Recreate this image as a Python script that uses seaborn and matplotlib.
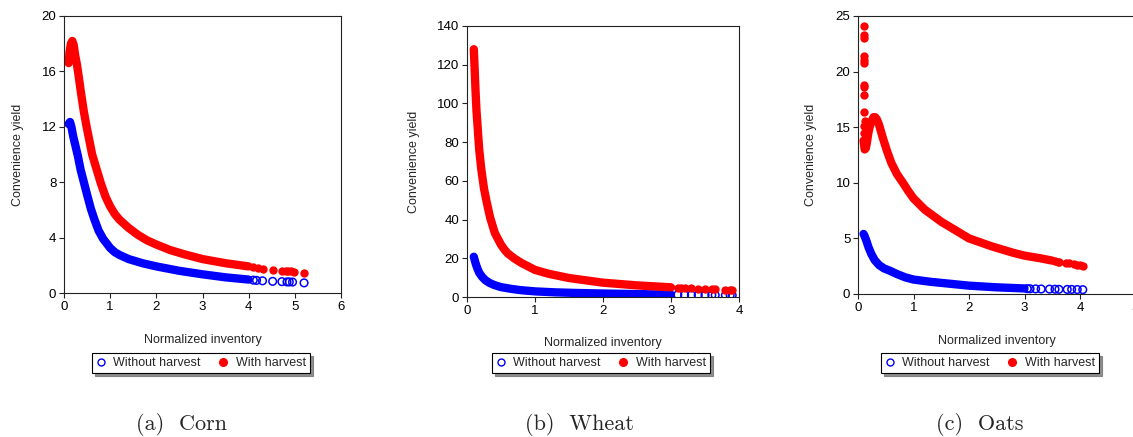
import matplotlib
matplotlib.use('Agg')
import matplotlib.pyplot as plt
from matplotlib.lines import Line2D
import seaborn as sns

# values
# "band" = densely packed points (drawn as a thick stroke), "pts" = single markers

# Corn
corn_wo_band_x = [0.10, 0.13, 0.16, 0.20, 0.25, 0.30, 0.36, 0.43, 0.50, 0.58, 0.66, 0.75, 0.85, 1.0,
                  1.1, 1.2, 1.4, 1.7, 2.0, 2.5, 3.0, 3.5, 4.0]
corn_wo_band_y = [12.2, 12.35, 12.0, 11.3, 10.6, 9.9, 8.9, 8.0, 7.1, 6.1, 5.3, 4.5, 3.9, 3.25,
                  2.95, 2.75, 2.45, 2.15, 1.92, 1.6, 1.35, 1.13, 0.97]
corn_wo_pts_x = [4.1, 4.17, 4.3, 4.52, 4.72, 4.83, 4.88, 4.95, 5.2]
corn_wo_pts_y = [0.93, 0.91, 0.88, 0.84, 0.82, 0.80, 0.80, 0.79, 0.73]
corn_w_band_x = [0.10, 0.12, 0.15, 0.18, 0.21, 0.24, 0.28, 0.32, 0.37, 0.43, 0.49, 0.55, 0.61, 0.70,
                 0.80, 0.90, 1.0, 1.1, 1.2, 1.3, 1.4, 1.6, 1.8, 2.0, 2.3, 2.6, 3.0, 3.5, 4.0]
corn_w_band_y = [16.6, 17.4, 18.0, 18.2, 17.9, 17.2, 16.5, 15.6, 14.4, 13.1, 12.0, 11.0, 10.0, 9.0,
                 7.9, 6.95, 6.25, 5.7, 5.3, 5.0, 4.7, 4.2, 3.8, 3.5, 3.1, 2.8, 2.45, 2.15, 1.92]
corn_w_pts_x = [4.1, 4.2, 4.3, 4.52, 4.72, 4.80, 4.86, 4.92, 4.98, 5.2]
corn_w_pts_y = [1.85, 1.78, 1.74, 1.66, 1.61, 1.58, 1.57, 1.56, 1.54, 1.42]

# Wheat
wheat_wo_band_x = [0.10, 0.11, 0.13, 0.15, 0.18, 0.22, 0.27, 0.33, 0.40, 0.50, 0.65, 0.8, 1.0,
                   1.3, 1.6, 2.0, 2.5, 3.0]
wheat_wo_band_y = [20.8, 19.5, 17.0, 15.0, 12.5, 10.5, 8.7, 7.3, 6.2, 5.1, 4.2, 3.5, 2.9,
                   2.4, 2.1, 1.8, 1.5, 1.25]
wheat_wo_pts_x = [3.1, 3.2, 3.3, 3.4, 3.5, 3.6, 3.65, 3.8, 3.87, 3.9]
wheat_wo_pts_y = [1.2, 1.15, 1.1, 1.07, 1.03, 1.0, 1.0, 0.95, 0.93, 0.92]
wheat_w_band_x = [0.10, 0.11, 0.12, 0.13, 0.14, 0.16, 0.18, 0.21, 0.25, 0.29, 0.34, 0.41, 0.50,
                  0.55, 0.60, 0.70, 0.80, 1.0, 1.2, 1.5, 2.0, 2.5, 3.0]
wheat_w_band_y = [128, 120, 111, 103, 96, 86, 76, 66, 56, 49, 41, 33, 27,
                  24.5, 22.5, 19.8, 17.6, 14, 12, 9.8, 7.4, 6.0, 5.0]
wheat_w_pts_x = [3.1, 3.15, 3.2, 3.3, 3.4, 3.5, 3.6, 3.65, 3.8, 3.87, 3.9]
wheat_w_pts_y = [4.8, 4.7, 4.6, 4.4, 4.3, 4.1, 3.9, 3.9, 3.7, 3.6, 3.6]

# Oats
oats_wo_band_x = [0.10, 0.12, 0.15, 0.19, 0.24, 0.30, 0.38, 0.47, 0.57, 0.7, 0.85, 1.0,
                  1.3, 1.6, 2.0, 2.5, 3.0]
oats_wo_band_y = [5.4, 5.2, 4.8, 4.2, 3.6, 3.05, 2.6, 2.3, 2.1, 1.8, 1.5, 1.3,
                  1.1, 0.95, 0.75, 0.6, 0.5]
oats_wo_pts_x = [3.05, 3.1, 3.2, 3.3, 3.45, 3.55, 3.62, 3.77, 3.85, 3.95, 4.05]
oats_wo_pts_y = [0.48, 0.47, 0.46, 0.45, 0.44, 0.43, 0.42, 0.41, 0.41, 0.40, 0.39]
oats_w_band_x = [0.10, 0.11, 0.12, 0.14, 0.16, 0.18, 0.20, 0.22, 0.25, 0.28, 0.31, 0.34, 0.38,
                 0.45, 0.52, 0.60, 0.70, 0.81, 0.9, 1.0, 1.2, 1.5, 1.8, 2.0, 2.4, 2.8, 3.0,
                 3.3, 3.5]
oats_w_band_y = [13.8, 13.4, 13.0, 13.1, 13.6, 14.3, 14.8, 15.2, 15.6, 15.9, 15.9, 15.7, 15.2,
                 14.0, 12.9, 11.8, 10.8, 10.0, 9.3, 8.6, 7.6, 6.5, 5.6, 5.0, 4.3, 3.7, 3.45,
                 3.2, 3.0]
oats_w_pts_x = [0.10, 0.10, 0.10, 0.10, 0.10, 0.10, 0.11, 0.11, 0.10, 0.11, 0.12, 0.11, 0.10,
                3.55, 3.6, 3.63, 3.75, 3.8, 3.9, 3.95, 4.0, 4.05]
oats_w_pts_y = [24.1, 23.3, 23.0, 21.4, 21.0, 20.8, 18.8, 18.6, 17.9, 16.4, 15.6, 15.1, 14.5,
                2.95, 2.9, 2.85, 2.75, 2.75, 2.7, 2.65, 2.6, 2.55]

captions = ['(a)  Corn', '(b)  Wheat', '(c)  Oats']

sns.set_theme(context='paper', style='ticks')
plt.rcParams['font.family'] = ['Liberation Sans', 'DejaVu Sans']
plt.rcParams['axes.edgecolor'] = '#222222'
plt.rcParams['axes.linewidth'] = 0.8

W, H = 1133, 437
fig = plt.figure(figsize=(W / 100, H / 100), dpi=100)


def add_ax(l, t, r, b):
    return fig.add_axes([l / W, 1 - b / H, (r - l) / W, (b - t) / H])


def draw(ax, bx, by, qx, qy, color, hollow):
    sns.lineplot(x=bx, y=by, ax=ax, color=color, lw=6, sort=False, estimator=None,
                 solid_capstyle='round', solid_joinstyle='round')
    if hollow:
        sns.scatterplot(x=qx, y=qy, ax=ax, s=30, color=color, facecolor='none',
                        edgecolor=color, linewidth=1.1)
    else:
        sns.scatterplot(x=qx, y=qy, ax=ax, s=36, color=color, edgecolor=color, linewidth=0)


panels = [
    (add_ax(64, 16, 341, 293), 6, 20, 4, 1, -0.146,
     corn_wo_band_x, corn_wo_band_y, corn_wo_pts_x, corn_wo_pts_y,
     corn_w_band_x, corn_w_band_y, corn_w_pts_x, corn_w_pts_y, 201, 182),
    (add_ax(467, 26, 739, 297), 4, 140, 20, 1, -0.171,
     wheat_wo_band_x, wheat_wo_band_y, wheat_wo_pts_x, wheat_wo_pts_y,
     wheat_w_band_x, wheat_w_band_y, wheat_w_pts_x, wheat_w_pts_y, 601, 579),
    (add_ax(858, 16, 1135.5, 294), 5, 25, 5, 1, -0.146,
     oats_wo_band_x, oats_wo_band_y, oats_wo_pts_x, oats_wo_pts_y,
     oats_w_band_x, oats_w_band_y, oats_w_pts_x, oats_w_pts_y, 990, 980),
]

blue = '#0000FF'
red = '#FF0000'

for i, p in enumerate(panels):
    ax, xmax, ymax, ystep, xstep, ylab_x = p[:6]
    draw(ax, p[6], p[7], p[8], p[9], blue, True)
    draw(ax, p[10], p[11], p[12], p[13], red, False)
    ax.set_xlim(0, xmax)
    ax.set_ylim(0, ymax)
    ax.set_xticks(range(0, xmax + 1, xstep))
    ax.set_yticks(range(0, ymax + 1, ystep))
    ax.tick_params(direction='out', length=3.5, width=0.8, colors='#222222',
                   labelsize=9.5, labelcolor='black', pad=2)
    ax.set_xlabel('Normalized inventory', fontsize=9)
    ax.set_ylabel('Convenience yield', fontsize=9)
    ax.xaxis.set_label_coords(0.5, -0.148)
    ax.yaxis.set_label_coords(ylab_x, 0.5)
    for s in ax.spines.values():
        s.set_visible(True)
        s.set_color('#222222')
        s.set_linewidth(0.8)

    handles = [Line2D([], [], ls='none', marker='o', mfc='none', mec=blue, mew=1.0, ms=5),
               Line2D([], [], ls='none', marker='o', mfc=red, mec=red, ms=5.5)]
    fig.legend(handles, ['Without harvest', 'With harvest'], loc='center',
               bbox_to_anchor=(p[14] / W, 1 - 363 / H), ncol=2, fontsize=9,
               frameon=True, fancybox=False, shadow={'color': '0.45', 'alpha': 0.8},
               edgecolor='black', framealpha=1, handlelength=0.8, handletextpad=0.6,
               columnspacing=1.4, borderpad=0.3, borderaxespad=0)
    fig.text(p[15] / W, 1 - 424 / H, captions[i], family='cmr10', fontsize=16,
             ha='center', va='center')

fig.savefig('out.png', dpi=100)
